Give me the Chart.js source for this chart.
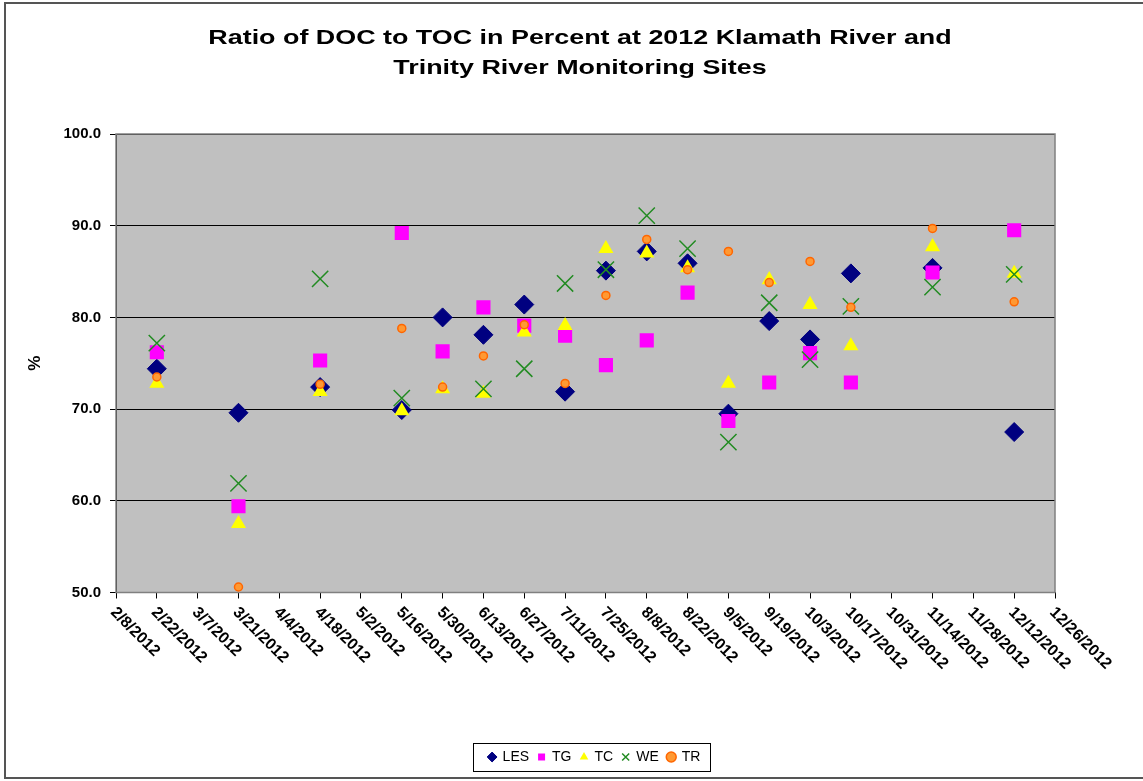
<!DOCTYPE html>
<html>
<head>
<meta charset="utf-8">
<title>Ratio of DOC to TOC</title>
<script src="https://cdn.jsdelivr.net/npm/chart.js@4.4.1/dist/chart.umd.min.js"></script>
<style>
  html, body { margin: 0; padding: 0; background: #fff; }
  #wrap { position: relative; width: 1143px; height: 781px; }
</style>
</head>
<body>
<div id="wrap"><canvas id="myChart" width="1143" height="781"></canvas></div>
<script>
// sampling dates (x) and the ratio for each site (%)
var sampleDates = ['2/22/2012', '3/21/2012', '4/18/2012', '5/16/2012', '5/30/2012', '6/13/2012',
    '6/27/2012', '7/11/2012', '7/25/2012', '8/8/2012', '8/22/2012', '9/5/2012', '9/19/2012',
    '10/3/2012', '10/17/2012', '11/14/2012', '12/12/2012'];
var lesValues = [74.4, 69.6, 72.4, 69.9, 80.0, 78.1, 81.4, 71.9, 85.1, 87.2, 85.9, 69.5, 79.6, 77.6, 84.8, 85.4, 67.5];
var tgValues  = [76.2, 59.4, 75.3, 89.2, 76.3, 81.1, 79.1, 78.0, 74.8, 77.5, 82.7, 68.7, 72.9, 76.1, 72.9, 84.9, 89.5];
var tcValues  = [72.8, 57.5, 71.9, 69.8, 72.2, 71.7, 78.4, 79.1, 87.5, 87.0, 85.4, 72.8, 84.1, 81.4, 76.9, 87.7, 84.8];
var weValues  = [77.2, 61.9, 84.2, 71.2, null, 72.2, 74.4, 83.7, 85.2, 91.1, 87.5, 66.4, 81.6, 75.4, 81.2, 83.3, 84.7];
var trValues  = [73.5, 50.6, 72.7, 78.8, 72.4, 75.8, 79.2, 72.8, 82.4, 88.5, 85.2, 87.2, 83.8, 86.1, 81.1, 89.7, 81.7];

// axis settings
var xAxisStart = '2/8/2012';
var xAxisEnd = '12/26/2012';
var xStepDays = 14;
var yMin = 50, yMax = 100, yStep = 10;

var titleLines = ['Ratio of DOC to TOC in Percent at 2012 Klamath River and', 'Trinity River Monitoring Sites'];
var fontName = "'Liberation Sans', Arial, sans-serif";

function dayNum(s) {
    var p = s.split('/');
    return (Date.UTC(+p[2], +p[0] - 1, +p[1]) - Date.UTC(2012, 0, 1)) / 86400000;
}
function dayLabel(n) {
    var d = new Date(Date.UTC(2012, 0, 1) + n * 86400000);
    return (d.getUTCMonth() + 1) + '/' + d.getUTCDate() + '/' + d.getUTCFullYear();
}
function toPoints(values) {
    var pts = [];
    for (var i = 0; i < sampleDates.length; i++) {
        if (values[i] != null) pts.push({x: dayNum(sampleDates[i]), y: values[i]});
    }
    return pts;
}

// background, plot border, title, slanted date labels, legend frame, outer frame
const decorations = {
    id: 'decorations',
    afterLayout(chart) {
        // legend sits a little right of the plot centre
        chart.legend.left += 9;
        chart.legend.right += 9;
    },
    beforeDraw(chart) {
        const ctx = chart.ctx, a = chart.chartArea;
        ctx.save();
        ctx.fillStyle = '#ffffff';
        ctx.fillRect(0, 0, chart.width, chart.height);
        ctx.fillStyle = '#c0c0c0';
        ctx.fillRect(a.left, a.top, a.right - a.left, a.bottom - a.top);
        ctx.restore();
    },
    beforeDatasetsDraw(chart) {
        const ctx = chart.ctx, a = chart.chartArea;
        ctx.save();
        ctx.strokeStyle = '#808080';
        ctx.lineWidth = 1.5;
        ctx.strokeRect(a.left, a.top, a.right - a.left, a.bottom - a.top);
        ctx.restore();
    },
    afterDraw(chart) {
        const ctx = chart.ctx, a = chart.chartArea;
        const xs = chart.scales.x;
        ctx.save();
        // title (the original is drawn wide)
        ctx.fillStyle = '#000';
        ctx.font = 'bold 21px ' + fontName;
        ctx.textAlign = 'center';
        ctx.textBaseline = 'middle';
        titleLines.forEach(function (line, i) {
            ctx.save();
            ctx.translate(580, 38 + i * 30);
            ctx.scale(1.28, 1);
            ctx.fillText(line, 0, 0);
            ctx.restore();
        });
        // x labels, rotated down to the right
        ctx.font = 'bold 16px ' + fontName;
        ctx.textAlign = 'left';
        xs.ticks.forEach(function (t) {
            const px = xs.getPixelForValue(t.value);
            ctx.save();
            ctx.translate(px - 3, a.bottom + 17.5);
            ctx.rotate(Math.PI / 4);
            ctx.fillText(dayLabel(t.value), 0, 0);
            ctx.restore();
        });
        // legend box
        const boxes = chart.legend.legendHitBoxes;
        if (boxes && boxes.length) {
            let l = Infinity, r = -Infinity, cy = 0;
            boxes.forEach(function (b) {
                l = Math.min(l, b.left);
                r = Math.max(r, b.left + b.width);
                cy = b.top + b.height / 2;
            });
            ctx.strokeStyle = '#000';
            ctx.lineWidth = 1;
            ctx.strokeRect(Math.round(l - 16) + 0.5, Math.round(cy - 14) + 0.5, Math.round(r - l + 25), 28);
        }
        // outer chart frame
        ctx.strokeStyle = '#555';
        ctx.lineWidth = 2;
        ctx.strokeRect(5, 3, 1160, 775);
        ctx.restore();
    }
};

const ctx = document.getElementById('myChart');

new Chart(ctx, {
    type: 'scatter',
    data: {
        datasets: [{
            label: 'LES',
            data: toPoints(lesValues),
            pointStyle: 'rectRot',
            pointRadius: 9.5,
            backgroundColor: '#000080',
            borderColor: '#000080',
            borderWidth: 1,
            order: 5
        }, {
            label: 'TG',
            data: toPoints(tgValues),
            pointStyle: 'rect',
            pointRadius: 10,
            backgroundColor: '#ff00ff',
            borderColor: '#ff00ff',
            borderWidth: 0,
            order: 4
        }, {
            label: 'TC',
            data: toPoints(tcValues),
            pointStyle: 'triangle',
            pointRadius: 8.7,
            backgroundColor: '#ffff00',
            borderColor: '#ffff00',
            borderWidth: 0,
            order: 3
        }, {
            label: 'WE',
            data: toPoints(weValues),
            pointStyle: 'crossRot',
            pointRadius: 11.5,
            backgroundColor: '#228b22',
            borderColor: '#228b22',
            borderWidth: 1.5,
            order: 2
        }, {
            label: 'TR',
            data: toPoints(trValues),
            pointStyle: 'circle',
            pointRadius: 4,
            backgroundColor: '#ff9933',
            borderColor: '#ff6600',
            borderWidth: 1.5,
            order: 1
        }]
    },
    options: {
        responsive: false,
        animation: false,
        layout: {
            padding: {left: 0, right: 88, top: 134, bottom: 7}
        },
        scales: {
            x: {
                type: 'linear',
                min: dayNum(xAxisStart),
                max: dayNum(xAxisEnd),
                ticks: {
                    stepSize: xStepDays,
                    display: false
                },
                grid: {
                    drawOnChartArea: false,
                    drawTicks: true,
                    tickLength: 6,
                    color: '#000'
                },
                border: {color: '#000', width: 1},
                afterFit: function (scale) { scale.height = 148.5; }
            },
            y: {
                min: yMin,
                max: yMax,
                ticks: {
                    stepSize: yStep,
                    padding: 9,
                    color: '#000',
                    font: {family: fontName, size: 15, weight: 'bold'},
                    callback: function (v) { return Number(v).toFixed(1); }
                },
                grid: {
                    color: '#000',
                    lineWidth: 1,
                    tickLength: 6
                },
                border: {color: '#000', width: 1},
                title: {
                    display: true,
                    text: '%',
                    color: '#000',
                    font: {family: fontName, size: 17, weight: 'bold'},
                    padding: {top: 25, bottom: 0}
                },
                afterFit: function (scale) { scale.width = 116; }
            }
        },
        plugins: {
            title: {display: false},
            legend: {
                position: 'bottom',
                fullSize: false,
                labels: {
                    usePointStyle: true,
                    boxWidth: 7,
                    boxHeight: 7,
                    padding: 9,
                    color: '#000',
                    font: {family: fontName, size: 14},
                    sort: function (a, b) { return a.datasetIndex - b.datasetIndex; }
                }
            },
            tooltip: {enabled: false}
        }
    },
    plugins: [decorations]
});
</script>
</body>
</html>
